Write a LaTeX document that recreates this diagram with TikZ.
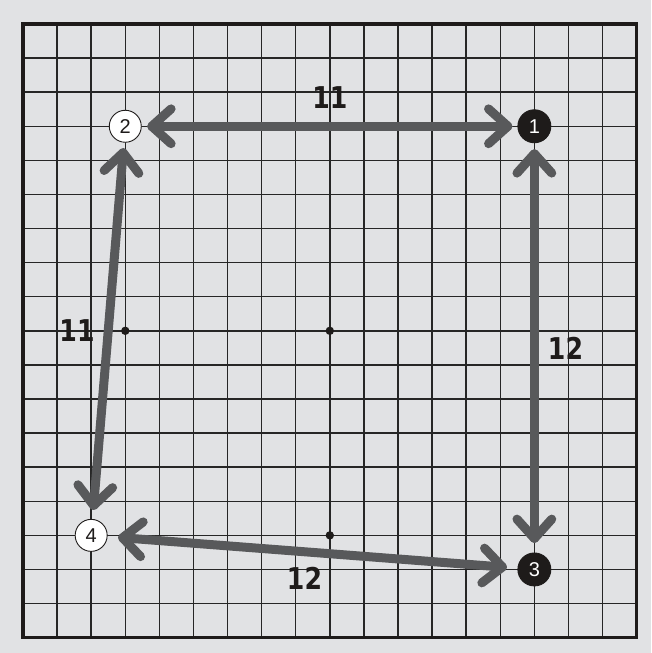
\documentclass[tikz,border=0pt]{standalone}
\usepackage{fontspec}
\usepackage{graphicx}
\setmainfont{Liberation Sans}
\newfontfamily\labfont{DejaVu Sans}
\usetikzlibrary{calc}
\definecolor{bg}{HTML}{E1E2E4}
\definecolor{arrc}{HTML}{58595B}
\definecolor{lnc}{HTML}{262626}
\definecolor{blk}{HTML}{1E1B1A}
\tikzset{
  gridline/.style={draw=lnc, line width=1.5pt},
  frameline/.style={draw=blk, line width=3.2pt},
  wstone/.style={circle, draw=blk, fill=white, line width=0.9pt, minimum size=32pt, inner sep=0pt, text=blk, font=\fontsize{20}{20}\selectfont},
  bstone/.style={circle, draw=blk, fill=blk, line width=0.9pt, minimum size=33pt, inner sep=0pt, text=white, font=\fontsize{20}{20}\selectfont},
  arrowline/.style={draw=arrc, line width=9pt, line cap=round, line join=round},
  lab/.style={text=blk, inner sep=0pt, font=\labfont\bfseries\fontsize{30}{30}\selectfont}
}
\newcommand\gobarbs[2]{%
  \draw[arrowline] ($(#1)!26pt!42:(#2)$) -- (#1) -- ($(#1)!26pt!-42:(#2)$);}
\newcommand\narrow[1]{\scalebox{0.84}[1]{#1}}
\begin{document}
\begin{tikzpicture}[x=34.09pt, y=-34.09pt]
  \fill[bg] (-0.6747,-0.704) rectangle (18.422,18.451);
  \useasboundingbox (-0.6747,-0.704) rectangle (18.422,18.451);
  % grid
  \foreach \i in {1,...,17} {
    \draw[gridline] (\i,0) -- (\i,18);
    \draw[gridline] (0,\i) -- (18,\i);
  }
  \draw[frameline] (0,0) rectangle (18,18);
  % star points
  \foreach \p in {(9,3),(3,9),(9,9),(9,15),(15,9),(3,15)} \fill[blk] \p circle (4.2pt);
  % stones
  \node[wstone] (s2) at (3,3) {2};
  \node[bstone] (s1) at (15,3) {1};
  \node[bstone] (s3) at (15,16) {3};
  \node[wstone] (s4) at (2,15) {4};
  % arrow tips
  \coordinate (a21) at ($(s2.center)!26.5pt!(s1.center)$);
  \coordinate (a12) at ($(s1.center)!26.5pt!(s2.center)$);
  \coordinate (a13) at ($(s1.center)!27.5pt!(s3.center)$);
  \coordinate (a31) at ($(s3.center)!31pt!(s1.center)$);
  \coordinate (a24) at ($(s2.center)!26.5pt!(s4.center)$);
  \coordinate (a42) at ($(s4.center)!30pt!(s2.center)$);
  \coordinate (a43) at ($(s4.center)!31.5pt!(s3.center)$);
  \coordinate (a34) at ($(s3.center)!32pt!(s4.center)$);
  % arrows
  \draw[arrowline] (a21) -- (a12);
  \gobarbs{a21}{a12}\gobarbs{a12}{a21}
  \draw[arrowline] (a13) -- (a31);
  \gobarbs{a13}{a31}\gobarbs{a31}{a13}
  \draw[arrowline] (a24) -- (a42);
  \gobarbs{a24}{a42}\gobarbs{a42}{a24}
  \draw[arrowline] (a43) -- (a34);
  \gobarbs{a43}{a34}\gobarbs{a34}{a43}
  % labels
  \node[lab] (l1) at (9.005,2.171) {\narrow{11}};
  \node[lab] (l2) at (1.584,9.006) {\narrow{11}};
  \node[lab] (l3) at (15.914,9.504) {\narrow{12}};
  \node[lab] (l4) at (8.258,16.251) {\narrow{12}};
\end{tikzpicture}
\end{document}
